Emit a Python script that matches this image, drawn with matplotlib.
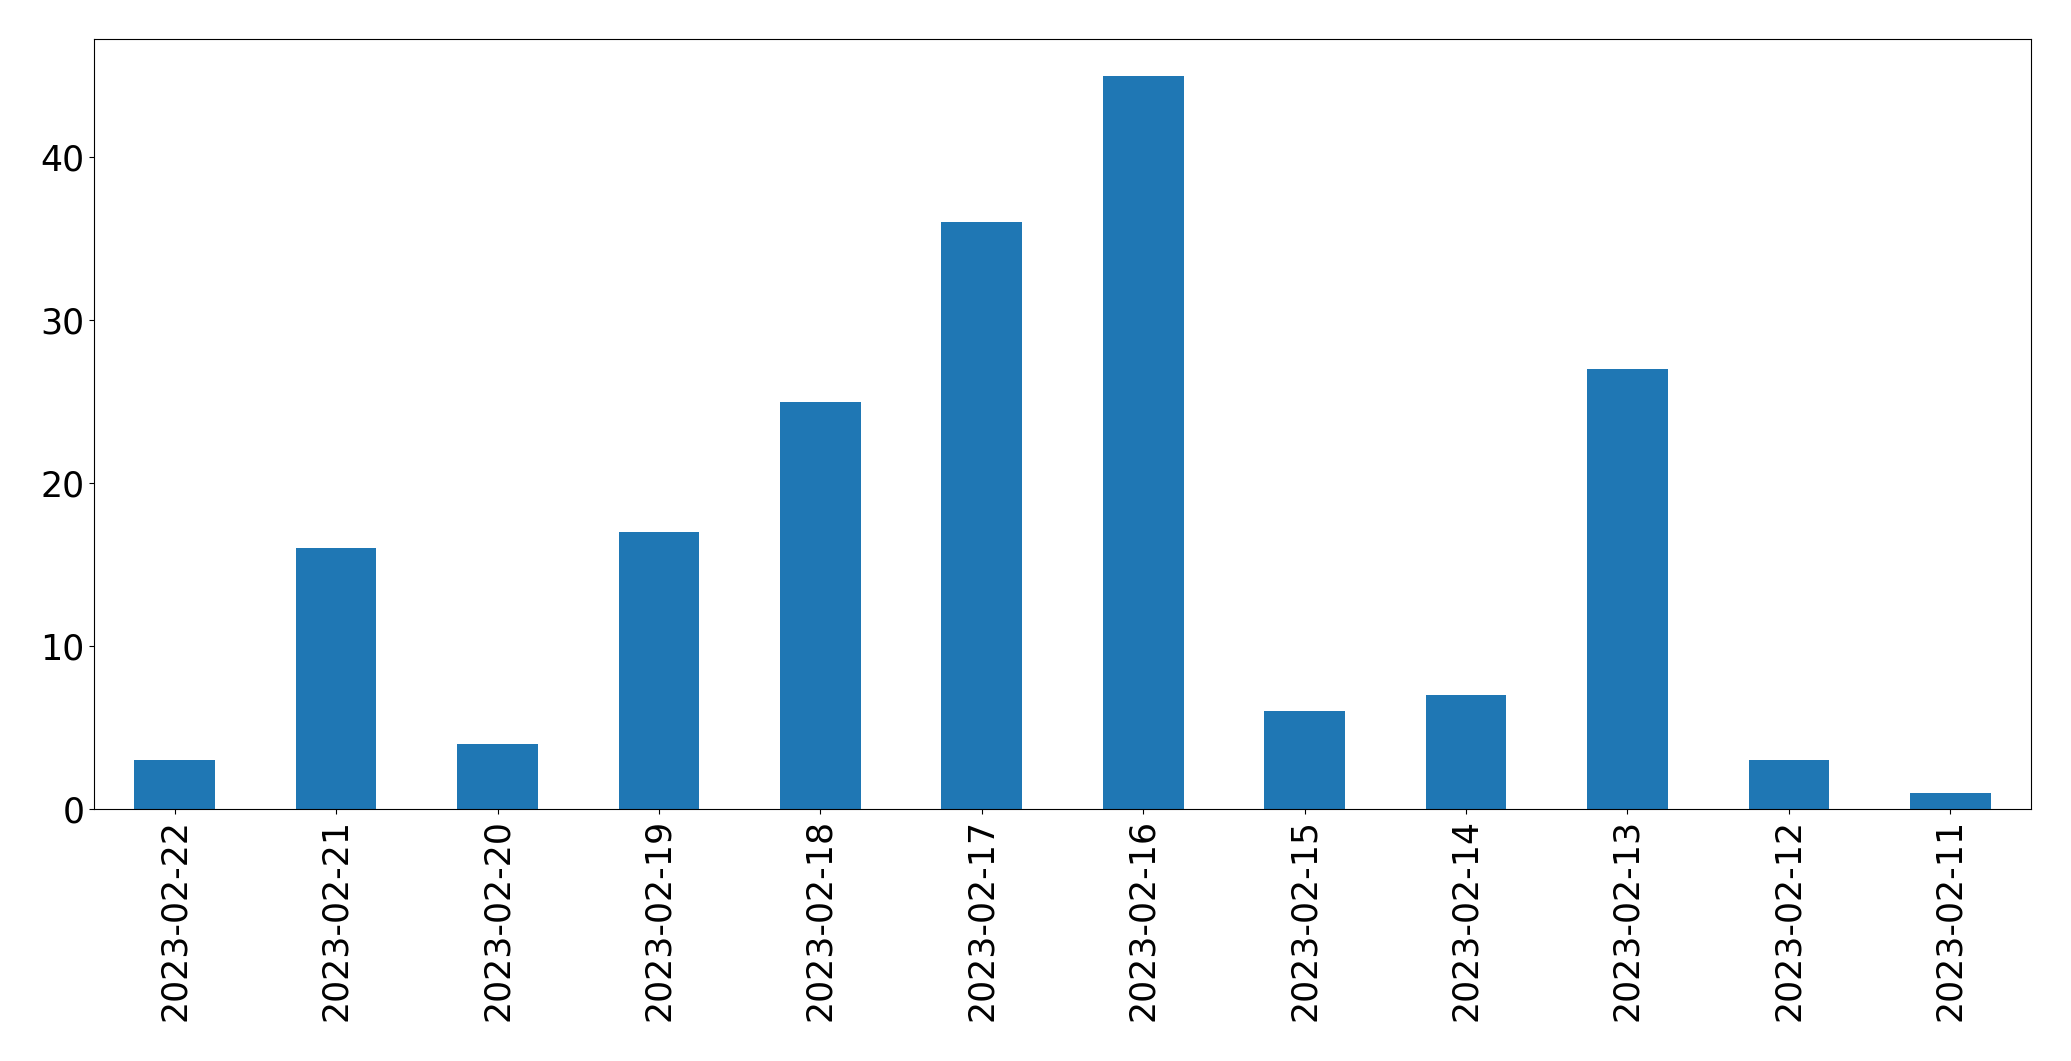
import numpy as np
import matplotlib
matplotlib.use('Agg')
import matplotlib.pyplot as plt

# data
dates = ['2023-02-22', '2023-02-21', '2023-02-20', '2023-02-19', '2023-02-18', '2023-02-17',
         '2023-02-16', '2023-02-15', '2023-02-14', '2023-02-13', '2023-02-12', '2023-02-11']
counts = [3, 16, 4, 17, 25, 36, 45, 6, 7, 27, 3, 1]

fig = plt.figure(figsize=(20.71, 10.61), dpi=100)
ax = fig.add_axes([94 / 2071, 1 - 809 / 1061, (2031 - 94) / 2071, (809 - 39) / 1061])

x = np.arange(len(dates))
ax.bar(x, counts, width=0.5, color='#1f77b4')
ax.set_xlim(-0.5, len(dates) - 0.5)
ax.set_ylim(0, max(counts) * 1.05)
ax.set_xticks(x)
ax.set_xticklabels(dates, rotation=90, fontsize=25)
ax.tick_params(axis='y', labelsize=25)

fig.savefig('out.png', dpi=100)
